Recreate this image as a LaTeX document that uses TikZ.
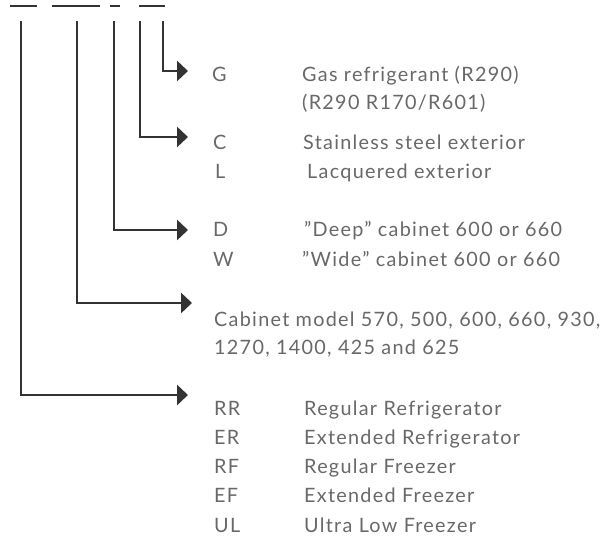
\documentclass[tikz,border=0pt]{standalone}
\usepackage{fontspec}
\setmainfont{Lato}[LetterSpace=6.5]
\usetikzlibrary{arrows.meta}

\definecolor{linegray}{HTML}{333333}
\definecolor{textgray}{HTML}{686868}

\tikzset{
    bar/.style={line width=2.8pt, draw=linegray},
    lead/.style={line width=2.8pt, draw=linegray, -{Triangle[length=11pt,width=20pt]}},
    code/.style={anchor=base west, inner sep=0pt, text=textgray,
        font=\fontsize{19.8}{29.5}\selectfont},
}

\begin{document}
\begin{tikzpicture}[x=1pt, y=-1pt]
    \useasboundingbox (0,0) rectangle (616,537);
    % the four blanks of the model code
    \draw[bar] (10,6) -- (37,6);
    \draw[bar] (52,6) -- (100,6);
    \draw[bar] (110,6) -- (120,6);
    \draw[bar] (139,6) -- (165,6);
    % drops under the blanks
    \coordinate (dtype) at (21,21);
    \coordinate (dmodel) at (77,21);
    \coordinate (dsize) at (114,21);
    \coordinate (dfinish) at (140,21);
    \coordinate (dgas) at (163,21);
    % arrow ends
    \coordinate (tgas) at (188,71);
    \coordinate (tfinish) at (188,137);
    \coordinate (tsize) at (188,230);
    \coordinate (tmodel) at (192,303);
    \coordinate (ttype) at (188,395);
    % texts
    \node[code] (g) at (212,82) {G};
    \node[code] (gtxt) at (302,82) {Gas refrigerant (R290)};
    \node[code] (gtxt2) at (302,110) {(R290 R170/R601)};
    \node[code] (c) at (213,150) {C};
    \node[code] (ctxt) at (303,150) {Stainless steel exterior};
    \node[code] (l) at (215,179) {L};
    \node[code] (ltxt) at (307,179) {Lacquered exterior};
    \node[code] (d) at (213,237) {D};
    \node[code] (dtxt) at (304,237) {”Deep” cabinet 600 or 660};
    \node[code] (w) at (213,267) {W};
    \node[code] (wtxt) at (302,267) {”Wide” cabinet 600 or 660};
    \node[code] (cab) at (214,327) {Cabinet model 570, 500, 600, 660, 930,};
    \node[code] (cab2) at (214,355) {1270, 1400, 425 and 625};
    \foreach \k/\t [count=\i] in {RR/Regular Refrigerator, ER/Extended Refrigerator,
        RF/Regular Freezer, EF/Extended Freezer, UL/Ultra Low Freezer}{
        \node[code] (k\i) at (214,{415+29.3*(\i-1)}) {\k};
        \node[code] (t\i) at (304,{415+29.3*(\i-1)}) {\t};
    }
    % leaders
    \draw[lead] (dgas) |- (tgas);
    \draw[lead] (dfinish) |- (tfinish);
    \draw[lead] (dsize) |- (tsize);
    \draw[lead] (dmodel) |- (tmodel);
    \draw[lead] (dtype) |- (ttype);
\end{tikzpicture}
\end{document}
